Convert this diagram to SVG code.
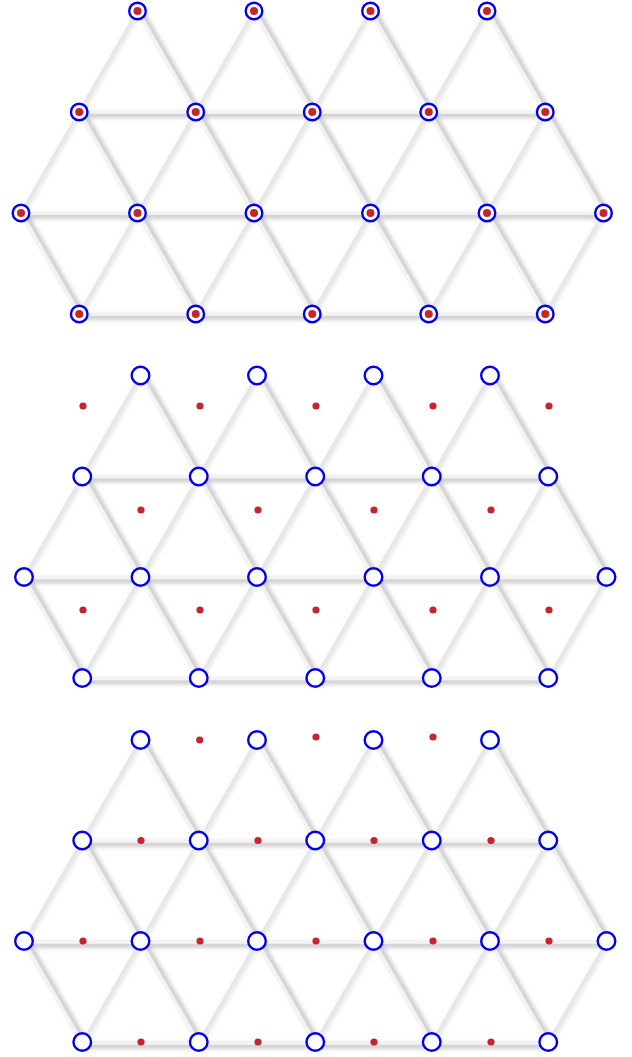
<svg xmlns="http://www.w3.org/2000/svg" xmlns:xlink="http://www.w3.org/1999/xlink" width="632" height="1057" viewBox="0 0 632 1057">
<style>
.sh{fill:none;stroke:#c6c6c6;stroke-width:5;stroke-linecap:butt}
.hl{fill:none;stroke:#f3f3f3;stroke-width:3.5;stroke-linecap:round}
.fl{fill:none;stroke:#e6e6e6;stroke-width:2.5;stroke-linecap:round}
.v{fill:#fff;stroke:#0000ee;stroke-width:2.4}
.d{fill:#c4262e}
</style>
<defs>
<filter id="blur" x="-10%" y="-10%" width="120%" height="120%"><feGaussianBlur stdDeviation="2"/></filter>
<g id="edges">
<g filter="url(#blur)">
<path class="sh" transform="translate(0,3)" d="M79.25 112H545.25M21 213H603.5M79.25 314H545.25"/>
<path class="sh" transform="translate(3.5,0)" d="M137.5 11L312.25 314M254 11L428.75 314M370.5 11L545.25 314M487 11L603.5 213M79.25 112L195.75 314M21 213L79.25 314"/>
<path class="sh" style="stroke:#dcdcdc;stroke-width:3.5" transform="translate(1.5,1)" d="M137.5 11L21 213M254 11L79.25 314M370.5 11L195.75 314M487 11L312.25 314M545.25 112L428.75 314M603.5 213L545.25 314"/>
</g>
<path class="hl" d="M79.25 112H545.25M21 213H603.5M79.25 314H545.25"/>
<path class="hl" d="M137.5 11L312.25 314M254 11L428.75 314M370.5 11L545.25 314M487 11L603.5 213M79.25 112L195.75 314M21 213L79.25 314"/>
<path class="fl" d="M137.5 11L21 213M254 11L79.25 314M370.5 11L195.75 314M487 11L312.25 314M545.25 112L428.75 314M603.5 213L545.25 314"/>
</g>
</defs>
<rect width="632" height="1057" fill="#fff"/>
<g id="connectors">
<use xlink:href="#edges" href="#edges"/>
<use xlink:href="#edges" href="#edges" transform="translate(3,364.5)"/>
<use xlink:href="#edges" href="#edges" transform="translate(3,729)"/>
</g>
<g id="lattice1">
<g id="l1-vertices">
<circle class="v" cx="137.5" cy="11" r="8.3"/><circle class="v" cx="254" cy="11" r="8.3"/><circle class="v" cx="370.5" cy="11" r="8.3"/><circle class="v" cx="487" cy="11" r="8.3"/>
<circle class="v" cx="79.25" cy="112" r="8.3"/><circle class="v" cx="195.75" cy="112" r="8.3"/><circle class="v" cx="312.25" cy="112" r="8.3"/><circle class="v" cx="428.75" cy="112" r="8.3"/><circle class="v" cx="545.25" cy="112" r="8.3"/>
<circle class="v" cx="21" cy="213" r="8.3"/><circle class="v" cx="137.5" cy="213" r="8.3"/><circle class="v" cx="254" cy="213" r="8.3"/><circle class="v" cx="370.5" cy="213" r="8.3"/><circle class="v" cx="487" cy="213" r="8.3"/><circle class="v" cx="603.5" cy="213" r="8.3"/>
<circle class="v" cx="79.25" cy="314" r="8.3"/><circle class="v" cx="195.75" cy="314" r="8.3"/><circle class="v" cx="312.25" cy="314" r="8.3"/><circle class="v" cx="428.75" cy="314" r="8.3"/><circle class="v" cx="545.25" cy="314" r="8.3"/>
</g>
<g id="l1-dots">
<circle class="d" cx="137.5" cy="11" r="4"/><circle class="d" cx="254" cy="11" r="4"/><circle class="d" cx="370.5" cy="11" r="4"/><circle class="d" cx="487" cy="11" r="4"/>
<circle class="d" cx="79.25" cy="112" r="4"/><circle class="d" cx="195.75" cy="112" r="4"/><circle class="d" cx="312.25" cy="112" r="4"/><circle class="d" cx="428.75" cy="112" r="4"/><circle class="d" cx="545.25" cy="112" r="4"/>
<circle class="d" cx="21" cy="213" r="4"/><circle class="d" cx="137.5" cy="213" r="4"/><circle class="d" cx="254" cy="213" r="4"/><circle class="d" cx="370.5" cy="213" r="4"/><circle class="d" cx="487" cy="213" r="4"/><circle class="d" cx="603.5" cy="213" r="4"/>
<circle class="d" cx="79.25" cy="314" r="4"/><circle class="d" cx="195.75" cy="314" r="4"/><circle class="d" cx="312.25" cy="314" r="4"/><circle class="d" cx="428.75" cy="314" r="4"/><circle class="d" cx="545.25" cy="314" r="4"/>
</g>
</g>
<g id="lattice2">
<g id="l2-vertices">
<circle class="v" cx="140.5" cy="375.5" r="8.8"/><circle class="v" cx="257" cy="375.5" r="8.8"/><circle class="v" cx="373.5" cy="375.5" r="8.8"/><circle class="v" cx="490" cy="375.5" r="8.8"/>
<circle class="v" cx="82.25" cy="476.5" r="8.8"/><circle class="v" cx="198.75" cy="476.5" r="8.8"/><circle class="v" cx="315.25" cy="476.5" r="8.8"/><circle class="v" cx="431.75" cy="476.5" r="8.8"/><circle class="v" cx="548.25" cy="476.5" r="8.8"/>
<circle class="v" cx="24" cy="577" r="8.8"/><circle class="v" cx="140.5" cy="577" r="8.8"/><circle class="v" cx="257" cy="577" r="8.8"/><circle class="v" cx="373.5" cy="577" r="8.8"/><circle class="v" cx="490" cy="577" r="8.8"/><circle class="v" cx="606.5" cy="577" r="8.8"/>
<circle class="v" cx="82.25" cy="678" r="8.8"/><circle class="v" cx="198.75" cy="678" r="8.8"/><circle class="v" cx="315.25" cy="678" r="8.8"/><circle class="v" cx="431.75" cy="678" r="8.8"/><circle class="v" cx="548.25" cy="678" r="8.8"/>
</g>
<g id="l2-dots">
<circle class="d" cx="83" cy="406" r="3.6"/><circle class="d" cx="200" cy="406" r="3.6"/><circle class="d" cx="316" cy="406" r="3.6"/><circle class="d" cx="433" cy="406" r="3.6"/><circle class="d" cx="549" cy="406" r="3.6"/>
<circle class="d" cx="141" cy="510" r="3.6"/><circle class="d" cx="258" cy="510" r="3.6"/><circle class="d" cx="374" cy="510" r="3.6"/><circle class="d" cx="491" cy="510" r="3.6"/>
<circle class="d" cx="83" cy="610" r="3.6"/><circle class="d" cx="200" cy="610" r="3.6"/><circle class="d" cx="316" cy="610" r="3.6"/><circle class="d" cx="433" cy="610" r="3.6"/><circle class="d" cx="549" cy="610" r="3.6"/>
</g>
</g>
<g id="lattice3">
<g id="l3-vertices">
<circle class="v" cx="140.5" cy="740" r="8.8"/><circle class="v" cx="257" cy="740" r="8.8"/><circle class="v" cx="373.5" cy="740" r="8.8"/><circle class="v" cx="490" cy="740" r="8.8"/>
<circle class="v" cx="82.25" cy="840.5" r="8.8"/><circle class="v" cx="198.75" cy="840.5" r="8.8"/><circle class="v" cx="315.25" cy="840.5" r="8.8"/><circle class="v" cx="431.75" cy="840.5" r="8.8"/><circle class="v" cx="548.25" cy="840.5" r="8.8"/>
<circle class="v" cx="24" cy="941" r="8.8"/><circle class="v" cx="140.5" cy="941" r="8.8"/><circle class="v" cx="257" cy="941" r="8.8"/><circle class="v" cx="373.5" cy="941" r="8.8"/><circle class="v" cx="490" cy="941" r="8.8"/><circle class="v" cx="606.5" cy="941" r="8.8"/>
<circle class="v" cx="82.25" cy="1042" r="8.8"/><circle class="v" cx="198.75" cy="1042" r="8.8"/><circle class="v" cx="315.25" cy="1042" r="8.8"/><circle class="v" cx="431.75" cy="1042" r="8.8"/><circle class="v" cx="548.25" cy="1042" r="8.8"/>
</g>
<g id="l3-dots">
<circle class="d" cx="199.7" cy="740" r="3.6"/><circle class="d" cx="316" cy="737" r="3.6"/><circle class="d" cx="433" cy="737" r="3.6"/>
<circle class="d" cx="141" cy="840.5" r="3.6"/><circle class="d" cx="258" cy="840.5" r="3.6"/><circle class="d" cx="374" cy="840.5" r="3.6"/><circle class="d" cx="491" cy="840.5" r="3.6"/>
<circle class="d" cx="83" cy="941" r="3.6"/><circle class="d" cx="200" cy="941" r="3.6"/><circle class="d" cx="316" cy="941" r="3.6"/><circle class="d" cx="433" cy="941" r="3.6"/><circle class="d" cx="549" cy="941" r="3.6"/>
<circle class="d" cx="141" cy="1042" r="3.6"/><circle class="d" cx="258" cy="1042" r="3.6"/><circle class="d" cx="374" cy="1042" r="3.6"/><circle class="d" cx="491" cy="1042" r="3.6"/>
</g>
</g>
</svg>
